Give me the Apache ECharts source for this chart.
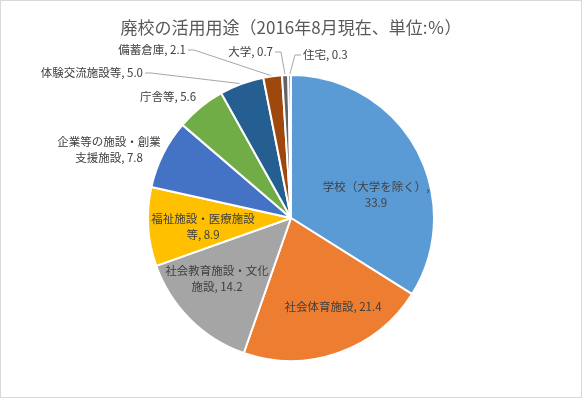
<!DOCTYPE html>
<html>
<head>
<meta charset="utf-8">
<script src="https://cdn.jsdelivr.net/npm/echarts@6/dist/echarts.min.js"></script>
<style>
  html, body { margin: 0; padding: 0; background: #fff; }
  #chart { width: 582px; height: 398px; box-sizing: border-box; border: 1px solid #d9d9d9; }
</style>
</head>
<body>
<div id="chart"></div>
<script>
const categories = ['学校（大学を除く）', '社会体育施設', '社会教育施設・文化施設', '福祉施設・医療施設等',
  '企業等の施設・創業支援施設', '庁舎等', '体験交流施設等', '備蓄倉庫', '大学', '住宅']
const shares = [33.9, 21.4, 14.2, 8.9, 7.8, 5.6, 5.0, 2.1, 0.7, 0.3]

const colors = ['#5B9BD5', '#ED7D31', '#A5A5A5', '#FFC000', '#4472C4', '#70AD47', '#255E91', '#9E480E', '#636363', '#997300']
// label anchor [x, y, align] in chart px, and whether a leader line is drawn
const labelAt = [
  [375, 194, 'center'], [332, 306, 'center'], [216, 278, 'center'], [202, 226, 'center'],
  [108, 149, 'center'], [167, 96, 'center'], [142, 72, 'right'], [185, 49, 'right'],
  [272, 51, 'right'], [302, 54, 'left']
]
const withLine = [false, false, false, false, false, false, true, true, true, true]

function labelText(name, value) {
  const v = value.toFixed(1)
  if (name.length > 9) return name.slice(0, 9) + '\n' + name.slice(9) + ', ' + v
  if (name.length === 9) return name + ',\n' + v
  return name + ', ' + v
}

const chart = echarts.init(document.getElementById('chart'))

const option = {
  animation: false,
  title: {
    text: '廃校の活用用途（2016年8月現在、単位:％）',
    left: 'center',
    top: 13,
    textStyle: {
      color: '#595959',
      fontSize: 17,
      fontWeight: 'normal',
      fontFamily: 'Noto Sans CJK JP'
    }
  },
  series: [
    {
      type: 'pie',
      center: ['50%', 217],
      radius: 143,
      startAngle: 90,
      clockwise: true,
      avoidLabelOverlap: false,
      itemStyle: {
        borderColor: '#ffffff',
        borderWidth: 2
      },
      label: {
        color: '#404040',
        fontSize: 11.5,
        lineHeight: 16,
        fontFamily: 'Noto Sans CJK JP',
        formatter: p => labelText(p.name, p.value)
      },
      labelLine: {
        lineStyle: { color: '#a6a6a6', width: 1 }
      },
      labelLayout: function (params) {
        const p = labelAt[params.dataIndex]
        const out = { x: p[0], y: p[1], align: p[2], verticalAlign: 'middle' }
        if (withLine[params.dataIndex] && params.labelLinePoints) {
          const dir = p[2] === 'right' ? 1 : -1
          out.labelLinePoints = [
            params.labelLinePoints[0],
            [p[0] + dir * 8, p[1]],
            [p[0] + dir * 2, p[1]]
          ]
        }
        return out
      },
      data: categories.map((name, i) => ({
        name: name,
        value: shares[i],
        itemStyle: { color: colors[i] },
        label: { position: i < 4 ? 'inside' : 'outside' },
        labelLine: { show: withLine[i] }
      }))
    }
  ]
}

chart.setOption(option)
</script>
</body>
</html>
